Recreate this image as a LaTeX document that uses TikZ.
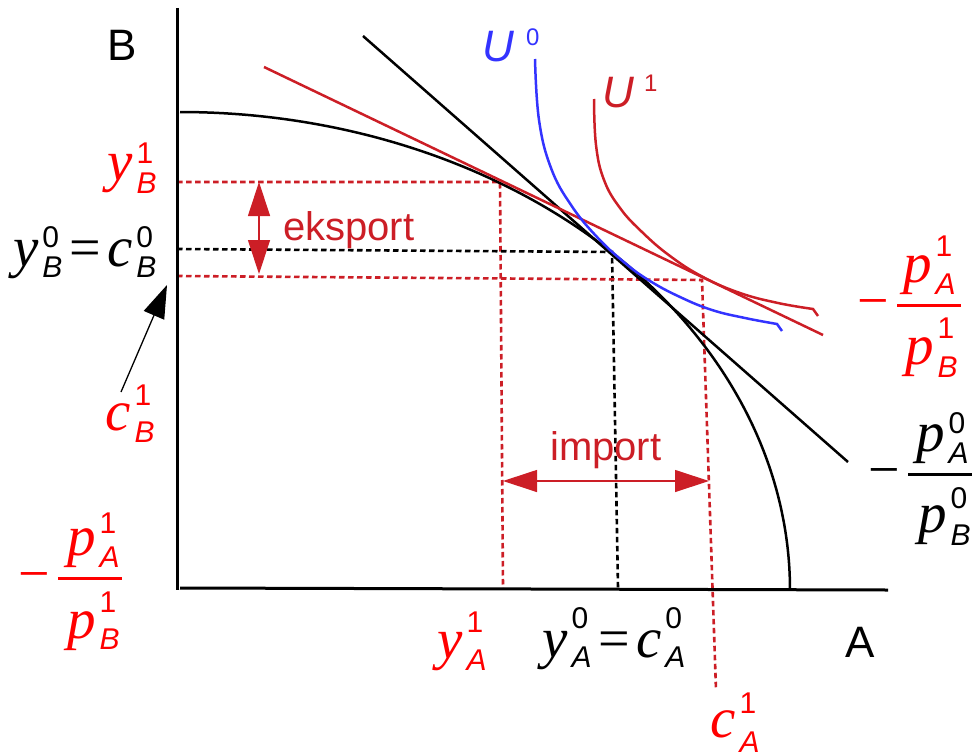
\documentclass[tikz,border=0pt]{standalone}
\usepackage{fontspec}
\setmainfont{Liberation Sans}
\newfontfamily\serifit{Liberation Serif}
\newfontfamily\sansl{Liberation Sans}
\usetikzlibrary{arrows.meta}
\definecolor{dred}{RGB}{204,30,38}
\definecolor{bred}{RGB}{255,0,0}
\definecolor{ublue}{RGB}{51,51,255}
\newcommand\bigv[1]{{\fontsize{57}{60}\selectfont\serifit\itshape #1}}
\newcommand\smlv[1]{{\fontsize{30}{32}\selectfont\sansl #1}}
\newcommand\tlab[5]{\bigv{#1}\kern4pt\rlap{\raisebox{#4pt}{\smlv{#2}}}\raisebox{-#5pt}{\smlv{\itshape #3}}}
\newcommand\eqs{\kern7pt{\fontsize{56}{60}\selectfont\serifit =}\kern6pt}
\begin{document}
\begin{tikzpicture}[x=1pt,y=-1pt,
  lbl/.style={inner sep=0pt, anchor=base west},
  axisline/.style={line width=3pt},
  curve/.style={line width=2.5pt},
  guide/.style={line width=2.6pt, dash pattern=on 5.5pt off 3.5pt},
  bigarrow/.style={line width=1.2pt, {Triangle[length=34pt,width=22pt]}-{Triangle[length=34pt,width=22pt]}},
  word/.style={inner sep=0pt, anchor=base west, font=\fontsize{40}{44}\selectfont\sansl},
  axlabel/.style={inner sep=0pt, anchor=base west, font=\fontsize{44}{48}\selectfont\sansl},
  minus/.style={inner sep=0pt, anchor=base, font=\fontsize{56}{60}\selectfont\serifit},
  fbar/.style={line width=3pt},
]
\useasboundingbox (0,0) rectangle (976,752);
% guides
\draw[guide, dred] (177,182) -- (500,182) -- (503,588);
\draw[guide, black] (177,249) -- (612,252) -- (618,588);
\draw[guide, dred] (177,276) -- (702,280) -- (716,690);
% axes
\coordinate (Btop) at (177,8);
\coordinate (O) at (177,590);
\coordinate (Astart) at (180,588);
\coordinate (Aend) at (888,590);
\draw[axisline] (Btop) -- (O);
\draw[axisline] (Astart) -- (Aend);
% PPF
\draw[curve] plot[domain=0:90, samples=90, smooth] ({180+610*sin(\x)}, {590-478*cos(\x)});
% price lines
\coordinate (p0a) at (363,36); \coordinate (p0b) at (848,462);
\coordinate (p1a) at (264,67); \coordinate (p1b) at (823,335);
\draw[curve] (p0a) -- (p0b);
\draw[curve, dred] (p1a) -- (p1b);
% indifference curves
\draw[curve, ublue] plot[smooth, tension=0.7] coordinates {(535,59) (539,120) (551,168) (571,205) (597,237) (625,263) (650,281) (680,297) (712,310) (745,318) (777,324)} -- (782,331);
\draw[curve, dred] plot[smooth, tension=0.7] coordinates {(594,99) (596,145) (604,180) (620,208) (642,232) (670,256) (703,277) (740,293) (778,303) (813,309)} -- (818,316);
% arrows
\coordinate (e1) at (259,182); \coordinate (e2) at (259,274);
\coordinate (i1) at (503,481); \coordinate (i2) at (709,481);
\draw[bigarrow, dred] (e1) -- (e2);
\draw[bigarrow, dred] (i1) -- (i2);
\coordinate (cbtail) at (121,392); \coordinate (cbtip) at (167,285);
\draw[line width=1.3pt, -{Triangle[length=33pt,width=22pt]}] (cbtail) -- (cbtip);
% words
\node[word, text=dred] (eks) at (283,240) {eksport};
\node[word, text=dred] (imp) at (550,460) {import};
\node[axlabel] (Blab) at (107,60) {B};
\node[axlabel] (Alab) at (845,657) {A};
\node[lbl, text=ublue, font=\fontsize{44}{48}\selectfont\sansl] (U0) at (482,62) {\textit{U}\kern12pt\raisebox{17pt}{\fontsize{24}{26}\selectfont 0}};
\node[lbl, text=dred, font=\fontsize{44}{48}\selectfont\sansl] (U1) at (602,107) {\textit{U}\kern10pt\raisebox{16pt}{\fontsize{24}{26}\selectfont 1}};
% axis value labels
\node[lbl, text=bred] (yB1) at (107,180) {\tlab{y}{1}{B}{17}{13}};
\node[lbl] (yB0) at (13,266) {\tlab{y}{0}{B}{19}{11}\eqs\tlab{c}{0}{B}{19}{11}};
\node[lbl, text=bred] (cB1) at (105,430) {\tlab{c}{1}{B}{25}{12}};
\node[lbl, text=bred] (yA1) at (437,658) {\tlab{y}{1}{A}{26}{12}};
\node[lbl] (yA0) at (542,657) {\tlab{y}{0}{A}{29}{10}\eqs\tlab{c}{0}{A}{29}{10}};
\node[lbl, text=bred] (cA1) at (710,737) {\tlab{c}{1}{A}{24}{15}};
% slope fractions
\node[minus, text=bred] (m1) at (873,319) {\char"2212};
\draw[fbar, bred] (897,305) -- (961,305);
\node[lbl, text=bred] (n1) at (903,282) {\tlab{p}{1}{A}{26}{12}};
\node[lbl, text=bred] (d1) at (905,364) {\tlab{p}{1}{B}{26}{13}};
\node[minus] (m0) at (884,488) {\char"2212};
\draw[fbar] (908,474) -- (972,474);
\node[lbl] (n0) at (916,451) {\tlab{p}{0}{A}{18}{12}};
\node[lbl] (d0) at (918,532) {\tlab{p}{0}{B}{24}{13}};
\node[minus, text=bred] (m2) at (34,592) {\char"2212};
\draw[fbar, bred] (58,578) -- (122,578);
\node[lbl, text=bred] (n2) at (67,555) {\tlab{p}{1}{A}{22}{12}};
\node[lbl, text=bred] (d2) at (67,638) {\tlab{p}{1}{B}{26}{11}};
\end{tikzpicture}
\end{document}
